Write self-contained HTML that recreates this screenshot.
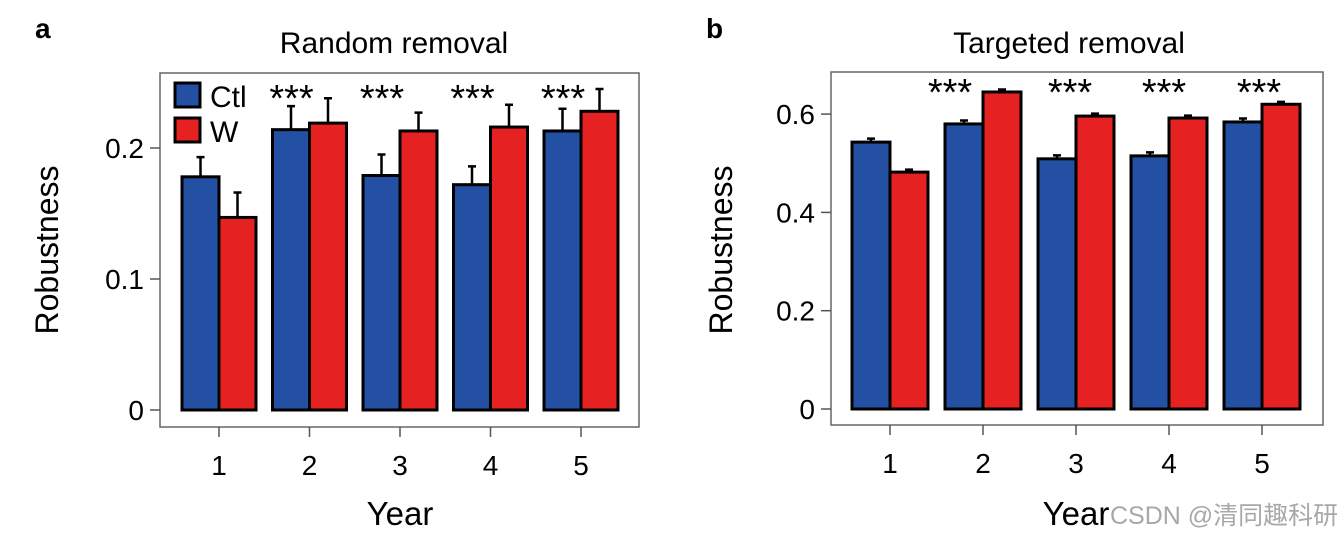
<!DOCTYPE html>
<html><head><meta charset="utf-8"><style>
html,body{margin:0;padding:0;background:#fff;}
svg{display:block;font-family:"Liberation Sans",Arial,sans-serif;}
</style></head><body>
<svg id="fig" width="1337" height="535" viewBox="0 0 1337 535" xmlns="http://www.w3.org/2000/svg">
<text x="35" y="38" font-size="28" font-weight="bold">a</text>
<text x="706" y="38" font-size="28" font-weight="bold">b</text>
<text x="394" y="53" font-size="30" text-anchor="middle">Random removal</text>
<text x="1069" y="53" font-size="30" text-anchor="middle">Targeted removal</text>
<text transform="translate(58,250) rotate(-90)" font-size="32" text-anchor="middle">Robustness</text>
<text transform="translate(732,250) rotate(-90)" font-size="32" text-anchor="middle">Robustness</text>
<text x="400" y="525" font-size="33" text-anchor="middle">Year</text>
<text x="1076" y="525" font-size="33" text-anchor="middle">Year</text>
<text x="1110" y="524" font-size="25" fill="#a8a8a8" font-family="'Liberation Sans','Noto Sans CJK SC',sans-serif">CSDN @清同趣科研</text>
<g id="ga"></g>
<g id="gb"></g>
</svg>
<script>
const years = ["1","2","3","4","5"];
const ctlA = [0.178,0.214,0.179,0.172,0.213];
const wA = [0.147,0.219,0.213,0.216,0.228];
const ctlAErr = [0.015,0.018,0.016,0.014,0.017];
const wAErr = [0.019,0.019,0.014,0.017,0.017];
const sigA = ["","***","***","***","***"];
const ticksA = [0,0.1,0.2];
const tickLabelsA = ["0","0.1","0.2"];
const ctlB = [0.543,0.580,0.509,0.515,0.584];
const wB = [0.482,0.645,0.596,0.592,0.620];
const ctlBErr = [0.007,0.007,0.007,0.007,0.007];
const wBErr = [0.005,0.005,0.005,0.005,0.005];
const sigB = ["","***","***","***","***"];
const ticksB = [0,0.2,0.4,0.6];
const tickLabelsB = ["0","0.2","0.4","0.6"];

const NS="http://www.w3.org/2000/svg";
function mk(parent,tag,attrs,text){const e=document.createElementNS(NS,tag);for(const k in attrs)e.setAttribute(k,attrs[k]);if(text!==undefined)e.textContent=text;parent.appendChild(e);return e;}

function draw(g,cfg){
  const y=v=>cfg.y0-v*cfg.pxPerUnit;
  const x=i=>cfg.x0+i*cfg.step;
  const box=mk(g,'rect',{x:cfg.left,y:cfg.top,width:cfg.right-cfg.left,height:cfg.bottom-cfg.top,fill:'none',stroke:'#666','stroke-width':1.5});
  
  
  cfg.ticks.forEach((t,i)=>{
    const l=mk(g,'line',{x1:cfg.left-10,x2:cfg.left,y1:y(t),y2:y(t),stroke:'#555','stroke-width':1.5});
    
    
    const tx=mk(g,'text',{x:cfg.left-16,y:y(t)+10,'font-size':28,'text-anchor':'end'},cfg.tickLabels[i]);
    
    
  });
  years.forEach((yr,i)=>{
    const cx=x(i);
    const l=mk(g,'line',{x1:cx,x2:cx,y1:cfg.bottom,y2:cfg.bottom+10,stroke:'#555','stroke-width':1.5});
    
    
    const tx=mk(g,'text',{x:cx,y:cfg.bottom+48,'font-size':28,'text-anchor':'middle'},yr);
    
    
    const series=[[cfg.ctl[i],cfg.ctlErr[i],'#2350a3',cx-cfg.bw,'bar-ctl-year-'+yr],[cfg.w[i],cfg.wErr[i],'#e52221',cx,'bar-w-year-'+yr]];
    series.forEach(s=>{
      const top=y(s[0]+s[1]);
      const e=mk(g,'path',{d:`M${s[3]+cfg.bw/2},${y(s[0])}V${top}M${s[3]+cfg.bw/2-4},${top}H${s[3]+cfg.bw/2+4}`,stroke:'#000','stroke-width':2.5,fill:'none'});
      
      
      const r=mk(g,'rect',{x:s[3],y:y(s[0]),width:cfg.bw,height:y(0)-y(s[0]),fill:s[2],stroke:'#000','stroke-width':3});
      
      
    });
    if(cfg.sig[i]){
      const st=mk(g,'text',{x:cx+cfg.sigDx[i],y:cfg.sigY,'font-size':38,'text-anchor':'middle'},cfg.sig[i]);
      
      
    }
  });
}
draw(document.getElementById('ga'),{left:160,right:639,top:73,bottom:427,y0:410,pxPerUnit:1310,x0:219,step:90.5,bw:37,ticks:ticksA,tickLabels:tickLabelsA,ctl:ctlA,w:wA,ctlErr:ctlAErr,wErr:wAErr,sig:sigA,sigY:111,sigDx:[0,-18,-18,-18,-18]});
draw(document.getElementById('gb'),{left:831,right:1323,top:72,bottom:425,y0:409,pxPerUnit:491.5,x0:890,step:93,bw:38,ticks:ticksB,tickLabels:tickLabelsB,ctl:ctlB,w:wB,ctlErr:ctlBErr,wErr:wBErr,sig:sigB,sigY:105,sigDx:[0,-33,-6,-5,-3]});
// legend
const ga=document.getElementById('ga');
const lg=mk(ga,'g',{});


const r1=mk(lg,'rect',{x:175,y:83,width:25,height:24,fill:'#2350a3',stroke:'#000','stroke-width':3});


const t1=mk(lg,'text',{x:210,y:107,'font-size':30},'Ctl');


const r2=mk(lg,'rect',{x:175,y:118,width:25,height:24,fill:'#e52221',stroke:'#000','stroke-width':3});


const t2=mk(lg,'text',{x:210,y:142,'font-size':30},'W');


</script>
</body></html>
